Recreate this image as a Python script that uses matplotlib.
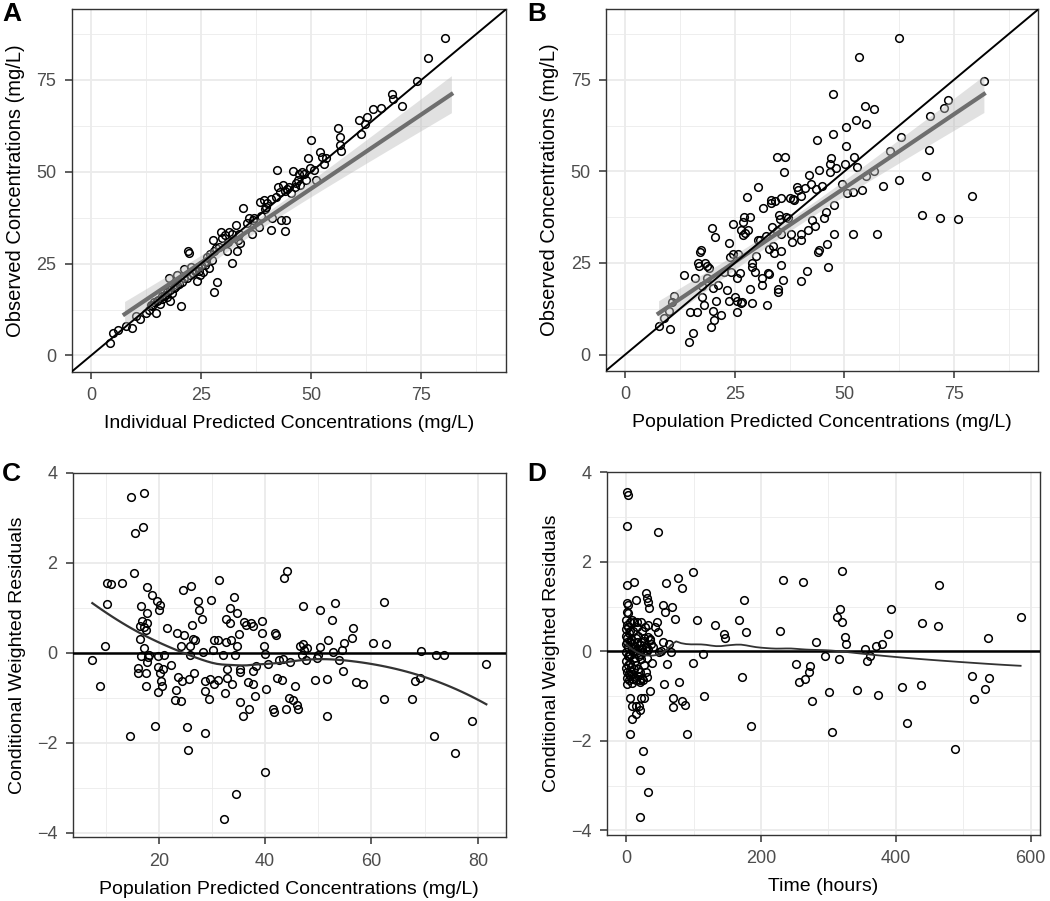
import numpy as np
import matplotlib.pyplot as plt

plt.rcParams['font.family'] = ['Liberation Sans', 'DejaVu Sans']

# ---- Panel A: individual predictions vs observed
ipred = [4.2, 5.0, 6.1, 8.0, 9.3, 10.1, 11.1, 12.5, 13.1, 14.8, 13.9, 15.0, 15.6, 16.1, 16.5,
         17.9, 17.3, 18.4, 17.6, 18.8, 19.5, 19.5, 20.3, 20.7, 21.2, 21.8, 22.0, 22.2, 22.7, 23.2,
         23.7, 24.1, 24.5, 24.8, 25.3, 25.8, 26.4, 26.7, 27.9, 28.5, 27.6, 28.3, 29.0, 29.4, 29.8,
         30.5, 30.9, 31.3, 32.0, 32.8, 33.2, 33.3, 33.9, 34.5, 35.3, 35.8, 36.6, 36.8, 38.1, 38.3,
         39.2, 39.6, 40.0, 40.8, 40.9, 41.1, 41.9, 42.3, 42.4, 42.9, 43.2, 43.6, 44.2, 44.0, 44.5,
         44.9, 45.3, 45.9, 46.4, 47.0, 47.2, 47.9, 48.3, 48.7, 49.2, 49.8, 50.0, 51.0, 52.0, 52.5,
         52.9, 53.3, 56.1, 56.5, 56.5, 56.7, 60.8, 61.3, 62.3, 62.7, 64.1, 65.8, 68.4, 68.6, 70.7,
         74.1, 76.4, 80.3,
         13.5, 14.2, 15.3, 16.0, 16.8, 17.2, 18.0, 19.0, 20.0, 21.0, 22.5, 23.5, 24.2, 25.0, 26.0,
         27.0, 27.5, 28.0, 31.0, 32.0, 33.5, 37.0, 38.5, 39.5, 44.0, 46.5, 47.5, 50.5]
obs_a = [3.3, 6.0, 6.9, 7.9, 7.5, 10.7, 9.9, 11.6, 12.5, 11.6, 13.6, 14.7, 14.1, 15.4, 16.1,
         14.9, 17.4, 17.0, 21.0, 18.3, 19.2, 22.0, 13.6, 20.1, 23.5, 21.0, 28.5, 27.8, 24.2, 22.4,
         23.3, 20.3, 23.1, 22.0, 22.6, 24.7, 26.9, 23.8, 17.3, 20.1, 31.4, 29.2, 29.6, 33.7, 31.9,
         32.8, 28.3, 33.7, 25.3, 35.5, 28.3, 31.4, 30.7, 40.0, 36.0, 37.3, 33.1, 36.9, 35.0, 41.8,
         42.3, 40.5, 41.4, 34.1, 42.7, 37.3, 43.2, 50.4, 45.9, 44.5, 36.9, 46.5, 37.0, 34.0, 45.4,
         45.9, 44.1, 50.2, 45.9, 47.7, 49.3, 50.0, 49.5, 47.7, 53.8, 51.1, 58.5, 47.7, 55.4, 54.0,
         52.0, 53.6, 62.0, 59.4, 57.2, 55.6, 64.1, 60.2, 62.9, 65.0, 67.0, 67.4, 71.1, 69.7, 67.9,
         74.6, 80.9, 86.5,
         13.8, 14.5, 15.0, 16.3, 16.5, 16.0, 17.8, 18.6, 19.4, 21.2, 22.0, 23.0, 24.0, 24.5, 25.5,
         27.5, 26.0, 28.4, 31.0, 33.0, 33.0, 37.5, 38.0, 39.8, 44.8, 47.0, 46.5, 50.5]

# ---- Panel B: population predictions vs observed
pred = [7.6, 8.9, 10.2, 10.0, 10.6, 11.2, 13.3, 14.5, 14.8, 15.5, 15.9, 16.3, 16.5, 16.8, 17.1,
        17.3, 17.4, 17.6, 17.9, 18.2, 18.6, 18.6, 19.1, 19.5, 19.9, 20.1, 20.1, 20.3, 20.5, 20.6,
        21.1, 21.8, 22.6, 23.3, 23.6, 23.6, 23.9, 24.2, 24.6, 24.6, 25.0, 25.4, 25.6, 25.6, 25.8,
        26.1, 26.4, 26.4, 26.7, 26.9, 27.1, 26.9, 27.4, 27.7, 27.9, 28.4, 28.5, 28.8, 28.9, 28.9,
        29.5, 29.8, 30.2, 30.3, 30.7, 31.1, 31.2, 31.4, 32.2, 32.4, 32.6, 32.9, 32.9, 33.2, 33.3,
        33.5, 33.7, 33.9, 34.2, 34.5, 34.7, 34.8, 34.8, 35.0, 35.2, 35.5, 35.5, 35.5, 35.6, 36.0,
        36.2, 36.5, 36.7, 37.1, 37.5, 37.9, 38.1, 38.3, 38.6, 39.2, 39.4, 40.0, 40.0, 40.2, 40.2,
        40.9, 41.5, 41.7, 42.0, 42.3, 42.6, 43.3, 43.6, 43.8, 43.9, 44.3, 44.3, 44.8, 45.3, 45.8,
        46.1, 46.2, 46.6, 46.8, 47.0, 47.3, 47.3, 47.6, 47.7, 48.1, 49.4, 50.2, 50.4, 50.4, 50.6,
        51.9, 51.9, 52.1, 52.7, 52.9, 53.4, 53.9, 54.7, 54.9, 54.9, 56.7, 56.7, 57.4, 58.7, 60.5,
        62.5, 62.5, 62.9, 67.8, 68.6, 69.3, 69.5, 71.8, 72.6, 73.6, 75.9, 79.2, 81.8]
obs_b = [7.9, 9.9, 7.0, 12.0, 14.3, 16.1, 21.7, 3.3, 11.7, 5.9, 20.8, 11.7, 25.1, 24.2, 28.0,
         28.5, 18.8, 15.6, 13.6, 25.1, 24.2, 21.0, 23.5, 7.5, 34.6, 12.0, 18.1, 9.5, 32.2, 14.7,
         19.0, 10.8, 22.4, 17.7, 30.5, 14.5, 26.5, 22.4, 27.4, 35.7, 15.6, 21.0, 14.7, 11.6, 27.4,
         22.2, 34.1, 14.1, 14.3, 36.1, 37.5, 32.5, 33.2, 43.0, 33.9, 17.9, 37.6, 25.1, 14.1, 23.8,
         22.6, 26.9, 45.6, 31.3, 31.3, 19.0, 20.8, 40.0, 32.3, 13.6, 22.2, 22.0, 28.9, 41.4, 42.3,
         34.9, 29.6, 27.8, 41.8, 54.0, 33.7, 17.9, 17.0, 38.2, 36.9, 32.8, 28.3, 42.7, 24.4, 20.3,
         49.7, 54.0, 37.6, 37.3, 42.7, 32.8, 30.7, 42.5, 42.3, 45.7, 45.0, 43.4, 33.0, 31.3, 20.1,
         45.4, 22.9, 34.1, 49.1, 46.6, 36.7, 35.2, 45.2, 58.5, 28.0, 50.4, 28.5, 46.1, 37.3, 38.8,
         30.1, 23.8, 52.0, 49.7, 53.6, 71.2, 60.2, 40.7, 32.8, 50.9, 46.6, 52.0, 56.9, 62.0, 44.1,
         44.3, 33.0, 54.0, 64.1, 51.1, 81.1, 45.0, 67.7, 62.9, 48.6, 67.1, 50.2, 32.8, 46.1, 55.6,
         86.5, 47.5, 59.4, 38.2, 48.6, 55.8, 65.0, 37.3, 67.4, 69.6, 36.9, 43.2, 74.6]

# ---- Panel C: CWRES vs population predictions
pred_c = [7.5, 8.9, 9.9, 10.2, 10.3, 11.1, 13.1, 14.6, 14.7, 15.3, 15.6, 16.1, 16.1, 16.4, 16.4,
          16.6, 16.7, 16.9, 17.0, 17.2, 17.2, 17.3, 17.5, 17.5, 17.5, 17.7, 17.7, 17.8, 17.8, 17.9,
          18.1, 18.8, 19.3, 19.6, 19.8, 19.8, 20.0, 19.8, 20.2, 20.3, 20.4, 20.6, 20.8, 20.9, 21.6,
          22.3, 23.3, 23.4, 23.6, 23.1, 24.1, 24.1, 24.4, 24.6, 24.8, 25.3, 25.4, 25.6, 25.8, 25.9,
          26.1, 26.3, 26.4, 26.6, 26.9, 27.4, 27.5, 28.1, 28.3, 28.6, 28.6, 28.7, 29.4, 29.6, 29.9,
          30.2, 30.3, 30.4, 31.1, 31.1, 31.3, 32.1, 32.2, 32.4, 32.7, 32.7, 32.8, 32.8, 33.3, 33.4,
          33.6, 33.8, 34.1, 34.4, 34.6, 34.7, 34.8, 35.0, 35.2, 35.3, 35.3, 35.8, 36.1, 36.4, 36.7,
          36.9, 37.3, 37.7, 37.8, 37.8, 38.1, 38.3, 39.4, 39.4, 39.8, 40.0, 40.0, 40.1, 40.6, 41.4,
          41.6, 41.9, 42.1, 42.3, 42.7, 43.1, 43.4, 43.6, 43.9, 44.2, 44.4, 44.7, 45.2, 45.6, 45.9,
          46.1, 46.6, 46.9, 47.1, 47.2, 47.3, 47.7, 47.9, 49.4, 49.8, 50.0, 50.3, 50.4, 51.7, 51.7,
          51.9, 52.5, 52.7, 53.1, 53.8, 54.4, 54.7, 54.8, 56.3, 56.6, 57.1, 58.4, 60.2, 62.3, 62.3,
          62.7, 67.7, 68.1, 69.2, 69.4, 71.7, 72.2, 73.6, 75.8, 78.9, 81.6]
cwres_c = [-0.17, -0.73, 0.16, 1.54, 1.08, 1.52, 1.54, -1.86, 3.47, 1.78, 2.67, -0.33, -0.45, 0.59, 0.31,
           -0.08, 1.03, 0.71, 2.80, 3.55, 0.11, 0.57, -0.45, 0.50, -0.75, 1.46, 0.88, 0.65, -0.21, -0.10,
           -0.04, 1.29, -1.62, 1.15, -0.08, -0.32, 0.96, -0.88, -0.45, 1.07, -0.62, -0.73, -0.36, -0.06, 0.56,
           -0.28, -0.83, 0.44, -0.54, -1.06, -1.08, 0.16, -0.62, 1.39, 0.39, -1.66, -2.16, -0.58, -0.06, 0.14,
           1.48, 0.61, 0.31, -0.45, 0.29, 1.15, 0.94, 0.76, 0.01, -1.79, -0.62, -0.86, -1.03, -0.58, 1.17,
           0.07, -0.69, 0.29, 0.29, -0.60, 1.61, -0.04, -3.70, -0.90, 0.76, 0.24, -0.36, -0.56, 0.65, 1.00,
           0.29, -0.69, 1.24, -0.06, -3.13, 0.88, 0.16, 0.42, -0.36, -0.43, -1.10, -1.40, 0.68, 0.61, -0.65,
           -1.25, 0.66, -0.69, 0.59, -0.41, -0.97, -0.30, 0.71, 0.44, 0.14, -2.64, -0.02, -0.80, -0.25, -1.25,
           -1.32, 0.44, 0.39, -0.56, -0.17, -0.60, -0.13, 1.65, -1.25, 1.82, -1.00, -0.21, -1.05, -0.75, -1.17,
           -1.25, 0.16, -0.06, 1.03, 0.19, 0.07, -0.17, 0.11, -0.60, -0.11, -0.06, 0.13, 0.96, -1.40, -0.58,
           0.29, 0.72, 0.01, 1.11, -0.16, 0.05, -0.41, 0.22, 0.33, 0.54, -0.65, -0.69, 0.22, -1.03, 1.13,
           0.20, -1.03, -0.63, -0.57, 0.04, -1.84, -0.04, -0.04, -2.22, -1.52, -0.25]

# ---- Panel D: CWRES vs time
time_d = [1.0, 2.5, 1.5, 47.3, 1.0, 10.8, 1.5, 2.5, 1.0, 14.8, 28.6, 30.5, 32.0, 34.5, 0.0,
          8.9, 15.8, 22.2, 0.0, 4.9, 0.0, 7.4, 0.0, 8.9, 15.8, 22.2, 27.1, 32.0, 35.5, 36.9,
          0.0, 3.9, 9.9, 14.8, 19.7, 25.6, 30.5, 0.0, 5.9, 12.3, 22.2, 38.4, 0.0, 4.9, 10.8,
          17.2, 28.6, 1.0, 5.9, 9.9, 14.8, 19.7, 24.6, 30.5, 35.5, 5.9, 22.2, 27.1, 8.9, 14.8,
          18.7, 13.8, 20.7, 8.9, 5.9, 25.6, 19.7, 33.0, 20.7, 43.3, 45.8, 46.8, 48.3, 51.7, 54.2,
          55.2, 56.7, 58.1, 59.1, 60.1, 64.0, 66.5, 67.9, 69.0, 69.0, 72.9, 76.4, 78.8, 82.8, 82.8,
          87.7, 90.1, 98.5, 99.5, 104.4, 113.3, 115.8, 132.0, 145.3, 146.3, 167.5, 171.4, 174.9, 178.3, 184.7,
          227.6, 232.5, 251.2, 256.2, 262.1, 266.0, 270.9, 273.4, 275.9, 281.8, 294.6, 301.5, 305.4, 312.8, 315.3,
          317.7, 320.2, 320.2, 324.1, 326.1, 342.4, 354.7, 357.1, 362.1, 370.4, 373.4, 379.3, 388.2, 393.1, 409.9,
          416.3, 437.4, 439.4, 463.1, 464.0, 487.7, 513.3, 516.3, 533.0, 537.0, 537.9, 585.2,
          0.5, 1.5, 2.0, 2.5, 3.0, 3.5, 4.0, 5.0, 6.0, 7.0, 8.0, 9.0, 10.0, 11.0, 12.0,
          13.0, 14.0, 15.0, 16.0, 17.0, 18.0, 19.0, 20.0, 21.0, 23.0, 24.0, 26.0, 27.0, 29.0, 31.0,
          33.0, 1.0, 2.0, 3.0, 0.5, 1.0, 4.0, 6.0, 8.0, 12.0, 16.0, 20.0, 24.0, 28.0, 32.0,
          36.0, 40.0]
cwres_d = [3.56, 3.49, 2.80, 2.67, 1.48, 1.55, 1.09, 1.04, 0.88, 1.15, 1.30, 1.20, 1.11, 0.96, 0.71,
           0.71, 0.65, 0.65, 0.50, 0.46, 0.35, 0.28, 0.16, 0.16, 0.20, 0.22, 0.24, 0.33, 0.28, 0.16,
           -0.02, -0.10, -0.02, 0.01, -0.06, -0.02, 0.01, -0.21, -0.25, -0.21, -0.17, -0.25, -0.36, -0.43, -0.39,
           -0.39, -0.45, -0.73, -0.54, -0.62, -0.65, -0.69, -0.65, -0.58, -0.88, -1.03, -1.03, -1.03, -1.23, -1.23,
           -1.23, -1.40, -1.32, -1.52, -1.84, -2.22, -2.64, -3.13, -3.70, 0.54, 0.66, 0.44, -0.02, 0.01, 1.03,
           0.22, -0.73, 0.88, 1.52, -0.28, 0.16, -0.01, 1.00, -1.03, -1.25, 0.72, 1.65, -0.69, 1.41, -1.10,
           -1.20, -1.84, 1.78, -0.25, 0.71, -0.06, -1.00, 0.59, 0.39, 0.29, 0.71, -0.58, 1.15, 0.44, -1.66,
           0.46, 1.60, -0.28, -0.69, 1.55, -0.62, -0.47, -0.33, -1.10, 0.22, -0.10, -0.90, -1.79, 0.76, -0.17,
           0.94, 1.80, 0.66, 0.33, 0.16, -0.86, 0.05, -0.21, -0.10, 0.11, -0.97, 0.16, 0.39, 0.94, -0.80,
           -1.60, -0.75, 0.63, 0.56, 1.48, -2.18, -0.56, -1.06, -0.83, 0.29, -0.60, 0.76,
           0.6, 0.3, 0.1, -0.1, -0.3, -0.5, 0.4, 0.2, -0.05, -0.35, 0.05, -0.5, 0.45, -0.15, 0.1,
           -0.6, 0.3, -0.3, 0.05, -0.55, 0.35, -0.1, 0.15, -0.45, 0.05, -0.6, 0.3, -0.3, 0.1, -0.15,
           0.05, -0.45, 0.55, 0.85, -0.6, 0.2, -0.65, 0.65, -0.7, 0.65, 0.55, -0.65, 0.45, 0.55, 0.6,
           0.25, 0.1]


def loess(x, y, span=0.75, n=80):
    x = np.asarray(x, float)
    y = np.asarray(y, float)
    xs = np.linspace(x.min(), x.max(), n)
    k = int(np.ceil(span * len(x)))
    out = []
    for x0 in xs:
        d = np.abs(x - x0)
        h = np.sort(d)[k - 1]
        w = np.clip(1 - (d / h) ** 3, 0, None) ** 3
        c = np.polyfit(x - x0, y, 2, w=np.sqrt(w))
        out.append(c[-1])
    return xs, np.array(out)


def lm_band(x, y, n=80):
    x = np.asarray(x, float)
    y = np.asarray(y, float)
    b1, b0 = np.polyfit(x, y, 1)
    res = y - (b0 + b1 * x)
    s = np.sqrt(np.sum(res ** 2) / (len(x) - 2))
    xs = np.linspace(x.min(), x.max(), n)
    se = s * np.sqrt(1 / len(x) + (xs - x.mean()) ** 2 / np.sum((x - x.mean()) ** 2))
    fit = b0 + b1 * xs
    return xs, fit, fit - 1.97 * se, fit + 1.97 * se


def style(ax, major, minor, lim_x, lim_y, ymaj, ymin):
    ax.set_xlim(*lim_x)
    ax.set_ylim(*lim_y)
    ax.set_xticks(major)
    ax.set_xticks(minor, minor=True)
    ax.set_yticks(ymaj)
    ax.set_yticks(ymin, minor=True)
    ax.grid(which='major', color='#EBEBEB', lw=1.3, zorder=0)
    ax.grid(which='minor', color='#EBEBEB', lw=0.6, zorder=0)
    ax.set_axisbelow(True)
    for sp in ax.spines.values():
        sp.set_color('#333333')
        sp.set_linewidth(1.0)
    ax.tick_params(which='major', length=5, width=1.1, color='#333333', pad=6,
                   labelsize=13, labelcolor='#4D4D4D')
    ax.tick_params(which='minor', length=0)


fig = plt.figure(figsize=(10.5, 9.01), dpi=100)
axA = fig.add_axes([0.0683, 0.5875, 0.4136, 0.4022])
axB = fig.add_axes([0.5771, 0.5886, 0.4117, 0.4010])
axC = fig.add_axes([0.0692, 0.0707, 0.4127, 0.4047])
axD = fig.add_axes([0.5778, 0.0733, 0.4127, 0.4025])

pt = dict(marker='o', ls='none', mfc='none', mec='black', ms=5.5, mew=1.1, zorder=3)
lx, ly, llo, lhi = lm_band(pred, obs_b)
conc_lim = (-4.4, 94.2)

for ax, xv, yv, xlab in [(axA, ipred, obs_a, 'Individual Predicted Concentrations (mg/L)'),
                         (axB, pred, obs_b, 'Population Predicted Concentrations (mg/L)')]:
    style(ax, [0, 25, 50, 75], [12.5, 37.5, 62.5, 87.5], conc_lim, conc_lim,
          [0, 25, 50, 75], [12.5, 37.5, 62.5, 87.5])
    ax.plot(xv, yv, **pt)
    ax.fill_between(lx, llo, lhi, color='#BDBDBD', alpha=0.45, lw=0, zorder=4)
    ax.plot(lx, ly, color='#6E6E6E', lw=3.0, zorder=5)
    ax.plot(conc_lim, conc_lim, color='black', lw=1.4, zorder=6)
    ax.set_xlabel(xlab, fontsize=14, labelpad=8)
    ax.set_ylabel('Observed Concentrations (mg/L)', fontsize=14.5, labelpad=8)

style(axC, [20, 40, 60, 80], [10, 30, 50, 70], (3.8, 85.3), (-4.1, 4.0),
      [-4, -2, 0, 2, 4], [-3, -1, 1, 3])
axC.plot(pred_c, cwres_c, **pt)
axC.axhline(0, color='black', lw=1.8, zorder=4)
sx, sy = loess(pred_c, cwres_c, span=0.9)
axC.plot(sx, sy, color='#333333', lw=1.6, zorder=5)
axC.set_xlabel('Population Predicted Concentrations (mg/L)', fontsize=14, labelpad=8)
axC.set_ylabel('Conditional Weighted Residuals', fontsize=14, labelpad=8)

style(axD, [0, 200, 400, 600], [100, 300, 500], (-29, 614), (-4.1, 4.0),
      [-4, -2, 0, 2, 4], [-3, -1, 1, 3])
axD.plot(time_d, cwres_d, **pt)
axD.axhline(0, color='black', lw=1.8, zorder=4)
tx, ty = loess(time_d, cwres_d)
axD.plot(tx, ty, color='#333333', lw=1.3, zorder=5)
axD.set_xlabel('Time (hours)', fontsize=14, labelpad=8)
axD.set_ylabel('Conditional Weighted Residuals', fontsize=14, labelpad=8)

for lab, xx, yy in [('A', 0.002, 0.998), ('B', 0.502, 0.998), ('C', 0.002, 0.487), ('D', 0.502, 0.487)]:
    fig.text(xx, yy, lab, fontsize=19, fontweight='bold', ha='left', va='top')

fig.savefig('out.png', dpi=100)
